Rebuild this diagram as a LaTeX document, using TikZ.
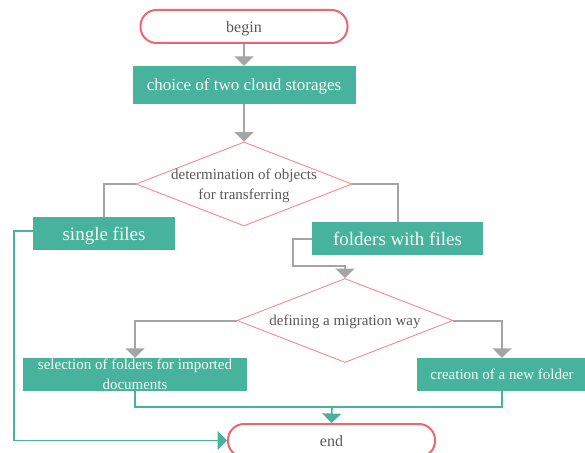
\documentclass[tikz,border=0pt]{standalone}
\usepackage{fontspec}
\setmainfont{Liberation Serif}
\usetikzlibrary{calc,arrows.meta,shapes.geometric}

\definecolor{boxteal}{RGB}{71,179,157}
\definecolor{termred}{RGB}{232,104,112}
\definecolor{diapink}{RGB}{242,138,144}
\definecolor{linegray}{RGB}{165,165,165}
\definecolor{txtgray}{RGB}{88,88,88}

\tikzset{
  terminal/.style={draw=termred, line width=2pt, rounded corners=16pt, fill=white,
    minimum width=207pt, minimum height=33pt, inner sep=0pt, text=txtgray, text depth=0pt,
    font=\fontsize{16}{19}\selectfont},
  process/.style={fill=boxteal, minimum height=33pt, inner sep=0pt, text=white!95!boxteal,
    align=center, text depth=0pt, font=\fontsize{15}{20}\selectfont},
  decision/.style={diamond, draw=diapink, line width=0.9pt, minimum width=216pt,
    minimum height=84pt, inner sep=0pt},
  qtext/.style={align=center, text=txtgray, font=\fontsize{15}{20}\selectfont},
  grayline/.style={draw=linegray, line width=2pt},
  grayarrow/.style={grayline, -{Triangle[length=9.5pt,width=19pt]}},
  tealline/.style={draw=boxteal, line width=1.6pt},
  tealarrow/.style={tealline, -{Triangle[length=9.5pt,width=19pt]}}
}

\begin{document}
\begin{tikzpicture}[x=1pt,y=-1pt]
  \useasboundingbox (0,0) rectangle (585,452);

  % main column
  \node[terminal] (begin) at (244,26.5) {begin};
  \node[process, minimum width=223pt, minimum height=38pt,
    font=\fontsize{17}{20}\selectfont] (choice) at (244,85) {choice of two cloud storages};
  \node[decision] (det) at (244,184) {};
  \node[qtext] (det-t) at (244,186) {determination of objects\\for transferring};

  % two kinds of objects
  \node[process, minimum width=142pt, font=\fontsize{19}{22}\selectfont] (single) at (104,233.5) {single files};
  \node[process, minimum width=171pt, font=\fontsize{19}{22}\selectfont] (folders) at (397.5,238.5) {folders with files};

  \node[decision] (mig) at (345,320.5) {};
  \node[qtext] (mig-t) at (345,322) {defining a migration way};

  \node[process, minimum width=224pt] (sel) at (135,374.5) {selection of folders for imported\\documents};
  \node[process, minimum width=170pt] (new) at (502,374.5) {creation of a new folder};

  \node[terminal] (end) at (331.5,440.5) {end};

  % gray connectors
  \draw[grayarrow] (begin) -- (choice);
  \draw[grayarrow] (choice) -- (det);
  \draw[grayline] (det.west) -| (single.north);
  \draw[grayline] (det.east) -| (folders.north);
  \draw[grayarrow] (folders.west) -- ++(-19,0) |- ($(mig.north)+(0,-12)$) -- (mig.north);
  \draw[grayarrow] (mig.west) -| (sel.north);
  \draw[grayarrow] (mig.east) -| (new.north);

  % teal connectors
  \coordinate (join) at (332,407); % meeting point above end
  \draw[tealline] (sel.south) |- (join) -| (new.south);
  \draw[tealarrow] (join) -- (end.north);
  \draw[tealarrow] ($(single.west)+(0,-2.5)$) -- ++(-19,0) |- (end.west);
\end{tikzpicture}
\end{document}
